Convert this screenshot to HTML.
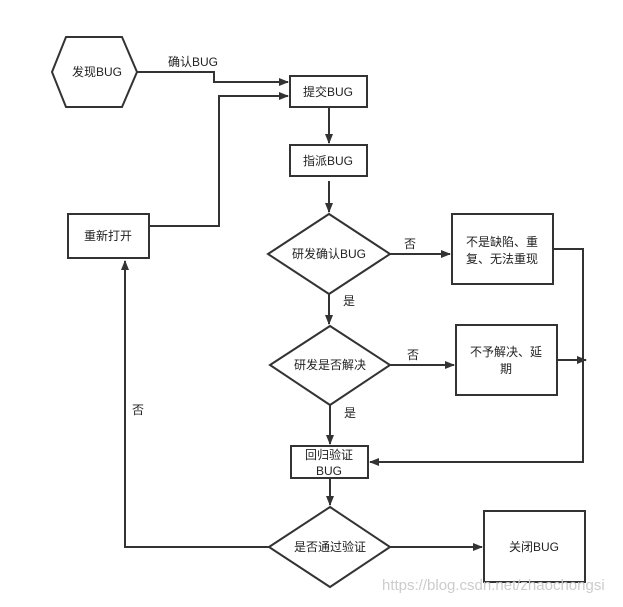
<!DOCTYPE html>
<html><head><meta charset="utf-8"><style>
html,body{margin:0;padding:0;background:#fff;}
svg text{font-family:"Liberation Sans","Noto Sans CJK SC",sans-serif;font-size:12px;fill:#222;}
</style></head><body>
<svg width="623" height="602" viewBox="0 0 623 602" xmlns="http://www.w3.org/2000/svg">
<defs><marker id="a" markerWidth="10" markerHeight="8" refX="9" refY="4" orient="auto" markerUnits="userSpaceOnUse"><path d="M0,0 L10,4 L0,8 z" fill="#333"/></marker></defs>
<g fill="none" stroke="#333" stroke-width="2">
<polygon points="52,72 66,37 122,37 137,72 122,107 66,107" fill="#fff"/>
<rect x="290" y="76" width="77" height="31" fill="#fff"/>
<rect x="290" y="145" width="77" height="31" fill="#fff"/>
<polygon points="268,254 329,214 390,254 329,294" fill="#fff"/>
<rect x="452" y="214" width="101" height="70" fill="#fff"/>
<polygon points="270,365 330,326 390,365 330,405" fill="#fff"/>
<rect x="456" y="325" width="101" height="70" fill="#fff"/>
<rect x="291" y="446" width="77" height="32" fill="#fff"/>
<polygon points="269,547 330,507 390,547 330,587" fill="#fff"/>
<rect x="484" y="511" width="101" height="71" fill="#fff"/>
<rect x="68" y="214" width="81" height="44" fill="#fff"/>
<polyline points="137,72 214,72 214,82 288,82" marker-end="url(#a)"/>
<polyline points="149,226 219,226 219,96 288,96" marker-end="url(#a)"/>
<line x1="329" y1="107" x2="329" y2="143" marker-end="url(#a)"/>
<line x1="329" y1="181" x2="329" y2="212" marker-end="url(#a)"/>
<line x1="390" y1="254" x2="450" y2="254" marker-end="url(#a)"/>
<polyline points="553,249 583,249 583,462 370,462" marker-end="url(#a)"/>
<line x1="329" y1="294" x2="329" y2="324" marker-end="url(#a)"/>
<line x1="390" y1="365" x2="454" y2="365" marker-end="url(#a)"/>
<line x1="557" y1="360" x2="586" y2="360" marker-end="url(#a)"/>
<line x1="330" y1="405" x2="330" y2="444" marker-end="url(#a)"/>
<line x1="330" y1="478" x2="330" y2="505" marker-end="url(#a)"/>
<line x1="390" y1="547" x2="482" y2="547" marker-end="url(#a)"/>
<polyline points="269,547 125,547 125,261" marker-end="url(#a)"/>
</g>
<g text-anchor="middle">
<text x="97" y="76">发现BUG</text>
<text x="193" y="66">确认BUG</text>
<text x="328" y="96">提交BUG</text>
<text x="328" y="165">指派BUG</text>
<text x="329" y="258">研发确认BUG</text>
<text x="502" y="246">不是缺陷、重</text>
<text x="502" y="263">复、无法重现</text>
<text x="330" y="369">研发是否解决</text>
<text x="506" y="356">不予解决、延</text>
<text x="506" y="373">期</text>
<text x="329" y="459">回归验证</text>
<text x="329" y="475">BUG</text>
<text x="330" y="551">是否通过验证</text>
<text x="534" y="551">关闭BUG</text>
<text x="108" y="240">重新打开</text>
<text x="410" y="248">否</text>
<text x="349" y="305">是</text>
<text x="413" y="359">否</text>
<text x="350" y="417">是</text>
<text x="138" y="414">否</text>
</g>
<text x="382" y="590" style="font-size:15px;fill:#ccc">https://blog.csdn.net/zhaochongsi</text>
</svg>
</body></html>
